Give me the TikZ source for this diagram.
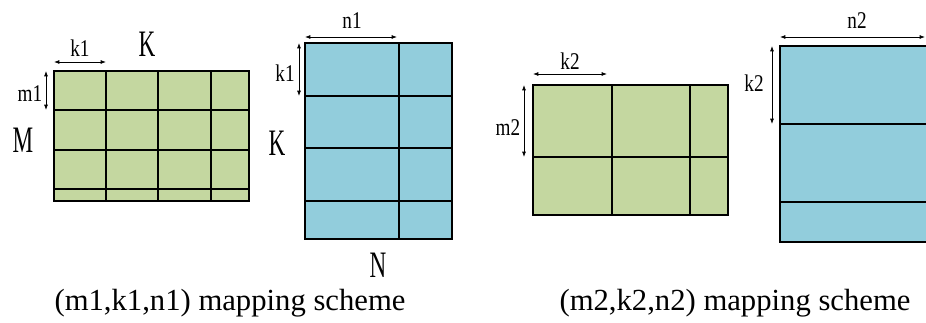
\documentclass[tikz,border=0pt]{standalone}
\usepackage{fontspec}
\setmainfont{Liberation Serif}
\newfontfamily\dimfont[FakeStretch=0.8]{Liberation Serif}
\newfontfamily\axisfont[FakeStretch=0.62]{Liberation Serif}
\usetikzlibrary{arrows.meta}
\definecolor{tilegreen}{RGB}{196,215,160}
\definecolor{tileblue}{RGB}{146,205,220}

\begin{document}
\begin{tikzpicture}[x=.75pt,y=-.75pt,
  grid/.style={line width=.9pt},
  dim/.style={line width=.6pt,{Latex[length=4pt,width=3pt]}-{Latex[length=4pt,width=3pt]}},
  dimlabel/.style={inner sep=0pt,font=\dimfont\fontsize{18}{20}\selectfont},
  axislabel/.style={inner sep=0pt,font=\axisfont\fontsize{28}{30}\selectfont},
  caption/.style={inner sep=0pt,font=\fontsize{23}{26}\selectfont}]
\path[use as bounding box] (0,0) rectangle (926,322);
\begin{scope}
\clip (0,0) rectangle (926,322);
% first scheme: A tile (M x K) and B tile (K x N)
\draw[grid,fill=tilegreen] (54,71) rectangle (249,201);
\draw[grid] (106,71)--(106,201) (158,71)--(158,201) (211,71)--(211,201);
\draw[grid] (54,110)--(249,110) (54,150)--(249,150) (54,189)--(249,189);
\draw[grid,fill=tileblue] (305,43) rectangle (452,239);
\draw[grid] (399,43)--(399,239);
\draw[grid] (305,96)--(452,96) (305,148)--(452,148) (305,201)--(452,201);
% second scheme
\draw[grid,fill=tilegreen] (533,85) rectangle (728,215);
\draw[grid] (612,85)--(612,215) (690,85)--(690,215);
\draw[grid] (533,157)--(728,157);
\draw[grid,fill=tileblue] (780,46) rectangle (934,242);
\draw[grid] (780,124)--(934,124) (780,202)--(934,202);
\end{scope}

% dimension arrows
\coordinate (kAl) at (54,62);   \coordinate (kAr) at (106,62);
\coordinate (mAt) at (46,71);   \coordinate (mAb) at (46,110);
\coordinate (nBl) at (305,37);  \coordinate (nBr) at (397,37);
\coordinate (kBt) at (299,43);  \coordinate (kBb) at (299,96);
\coordinate (kCl) at (533,74);  \coordinate (kCr) at (607,74);
\coordinate (mCt) at (524,85);  \coordinate (mCb) at (524,157);
\coordinate (nDl) at (780,37);  \coordinate (nDr) at (925,37);
\coordinate (kDt) at (772,46);  \coordinate (kDb) at (772,124);
\draw[dim] (kAl)--(kAr);
\draw[dim] (mAt)--(mAb);
\draw[dim] (nBl)--(nBr);
\draw[dim] (kBt)--(kBb);
\draw[dim] (kCl)--(kCr);
\draw[dim] (mCt)--(mCb);
\draw[dim] (nDl)--(nDr);
\draw[dim] (kDt)--(kDb);

\node[dimlabel] (kA) at (80,48) {k1};
\node[dimlabel] (mA) at (30,94) {m1};
\node[dimlabel] (nB) at (352,21) {n1};
\node[dimlabel] (kB) at (285,73) {k1};
\node[dimlabel] (kC) at (570,61) {k2};
\node[dimlabel] (mC) at (508,128) {m2};
\node[dimlabel] (nD) at (857,21) {n2};
\node[dimlabel] (kD) at (754,83) {k2};

\node[axislabel] (K1) at (147,44) {K};
\node[axislabel] (M1) at (23,140) {M};
\node[axislabel] (K2) at (277,143) {K};
\node[axislabel] (N1) at (378,265) {N};

\node[caption] (capA) at (230,303) {(m1,k1,n1) mapping scheme};
\node[caption] (capB) at (735,303) {(m2,k2,n2) mapping scheme};
\end{tikzpicture}
\end{document}
